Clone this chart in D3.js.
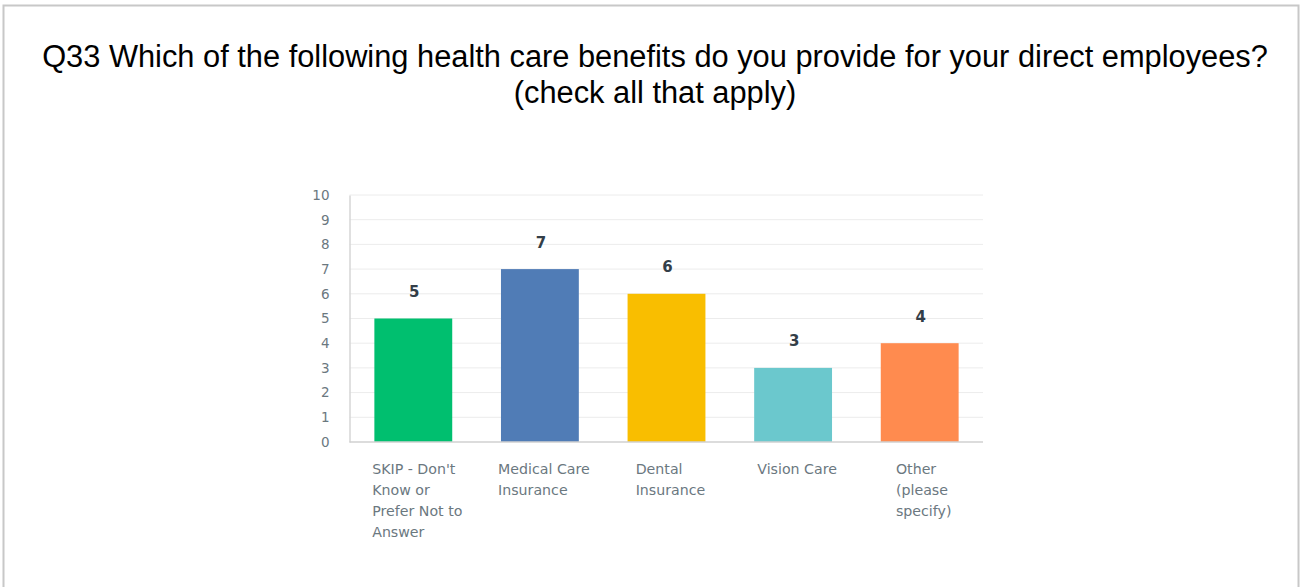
<!DOCTYPE html>
<html>
<head>
<meta charset="utf-8">
<script src="https://cdn.jsdelivr.net/npm/d3@7/dist/d3.min.js"></script>
<style>
  html, body { margin: 0; padding: 0; background: #fff; }
  svg { display: block; }
</style>
</head>
<body>
<svg id="chart" width="1301" height="587"></svg>
<script>
// Survey responses: health care benefits provided to direct employees
const categories = [
  ["SKIP - Don't", "Know or", "Prefer Not to", "Answer"],
  ["Medical Care", "Insurance"],
  ["Dental", "Insurance"],
  ["Vision Care"],
  ["Other", "(please", "specify)"]
];
const values = [5, 7, 6, 3, 4];
const barColors = ["#00bf6f", "#507cb6", "#f9be00", "#6bc8cd", "#ff8b4f"];
const yTicks = [0, 1, 2, 3, 4, 5, 6, 7, 8, 9, 10];
const titleLines = [
  "Q33 Which of the following health care benefits do you provide for your direct employees?",
  "(check all that apply)"
];

const svg = d3.select("#chart");
const labelFont = "'DejaVu Sans', 'Noto Sans', sans-serif";

// panel frame
svg.append("rect")
  .attr("x", 3.5).attr("y", 5.5)
  .attr("width", 1295).attr("height", 590)
  .attr("fill", "#fff")
  .attr("stroke", "#c8c8c8").attr("stroke-width", 2);

// title
svg.append("g").selectAll("text")
  .data(titleLines)
  .join("text")
  .attr("x", 655)
  .attr("y", (d, i) => 67 + i * 36)
  .attr("text-anchor", "middle")
  .attr("font-family", "'Liberation Sans', Arial, sans-serif")
  .attr("font-size", 30.8)
  .attr("fill", "#000")
  .text(d => d);

const margin = { left: 349.5, right: 983, top: 195, bottom: 442 };

const x = d3.scaleBand()
  .domain(d3.range(values.length))
  .range([margin.left + 0.5, margin.right])
  .paddingInner(0.385)
  .paddingOuter(0.1925);

const y = d3.scaleLinear()
  .domain([0, 10])
  .range([margin.bottom, margin.top]);

// horizontal gridlines
svg.append("g").selectAll("line")
  .data(yTicks.filter(t => t > 0))
  .join("line")
  .attr("x1", margin.left).attr("x2", margin.right)
  .attr("y1", d => y(d)).attr("y2", d => y(d))
  .attr("stroke", "#ececec").attr("stroke-width", 1);

// y axis with tick labels
const yAxis = d3.axisLeft(y)
  .tickValues(yTicks)
  .tickSize(0)
  .tickPadding(20)
  .tickFormat(d3.format("d"));

const yg = svg.append("g")
  .attr("transform", `translate(${margin.left},0)`)
  .call(yAxis);
yg.select(".domain").attr("stroke", "#d6d6d6").attr("stroke-width", 1.5);
yg.selectAll("text")
  .attr("font-family", labelFont)
  .attr("font-size", 13.5)
  .attr("fill", "#6b787f");

// bars
svg.append("g").selectAll("rect")
  .data(values)
  .join("rect")
  .attr("x", (d, i) => x(i))
  .attr("y", d => y(d))
  .attr("width", x.bandwidth())
  .attr("height", d => y(0) - y(d))
  .attr("fill", (d, i) => barColors[i]);

// baseline
svg.append("line")
  .attr("x1", margin.left).attr("x2", margin.right)
  .attr("y1", y(0)).attr("y2", y(0))
  .attr("stroke", "#d0d0d0").attr("stroke-width", 1.5);

// value labels above bars
svg.append("g").selectAll("text")
  .data(values)
  .join("text")
  .attr("x", (d, i) => x(i) + x.bandwidth() / 2 + 1)
  .attr("y", d => y(d) - 21.5)
  .attr("text-anchor", "middle")
  .attr("font-family", labelFont)
  .attr("font-size", 15)
  .attr("font-weight", "bold")
  .attr("fill", "#333e48")
  .text(d => d);

// category labels: wrapped lines, left aligned within a block centred under each bar
const catText = svg.append("g").selectAll("text")
  .data(categories)
  .join("text")
  .attr("y", 474)
  .attr("font-family", labelFont)
  .attr("font-size", 14.2)
  .attr("fill", "#6b787f");
catText.selectAll("tspan")
  .data(d => d)
  .join("tspan")
  .attr("dy", (d, i) => i === 0 ? 0 : 21)
  .text(d => d);
catText.each(function(d, i) {
  const t = d3.select(this);
  const w = d3.max(t.selectAll("tspan").nodes(), n => n.getComputedTextLength());
  const left = x(i) + x.bandwidth() / 2 - w / 2 + 4;
  t.attr("x", left);
  t.selectAll("tspan").attr("x", left);
});
</script>
</body>
</html>
